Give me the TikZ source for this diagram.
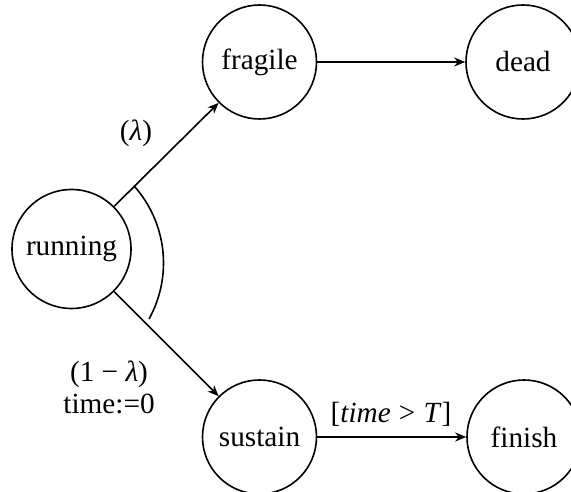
\documentclass[tikz,border=0pt]{standalone}
\usepackage{fontspec}
\setmainfont{Liberation Serif}
\usetikzlibrary{arrows.meta}
\begin{document}
\begin{tikzpicture}[x=1pt,y=1pt,
  state/.style={circle,draw,line width=1.6pt,inner sep=0pt,minimum size=114pt},
  conn/.style={line width=1.6pt,-{Stealth[length=11pt,width=9pt,inset=3.5pt]}},
  lbl/.style={inner sep=0pt,align=center},
  font=\fontsize{29.25}{32}\selectfont]
\useasboundingbox (0,0) rectangle (571,492);
\node[state,minimum size=119pt] (running) at (71.5,243) {running};
\node[state] (fragile) at (259.5,430) {fragile};
\node[state] (dead) at (523,430) {dead};
\node[state] (sustain) at (259.5,55) {sustain};
\node[state] (finish) at (524,55) {finish};
\draw[conn] (running.45) -- (fragile.225);
\draw[conn] (running.-45) -- (sustain.135);
\draw[conn] (fragile) -- (dead);
\draw[conn] (sustain) -- (finish);
\draw[line width=1.6pt] (48,229) ++(42:115.5) arc[start angle=42,end angle=-29,radius=115.5];
\node[lbl] (lam) at (136,359) {(\textit{λ})};
\node[lbl] (oneminus) at (109,105) {(1\hspace{0.25em}−\hspace{0.25em}\textit{λ})\\time:=0};
\node[lbl] (cond) at (391,78) {[\textit{time}\hspace{0.28em}>\hspace{0.28em}\textit{T}]};
\end{tikzpicture}
\end{document}
